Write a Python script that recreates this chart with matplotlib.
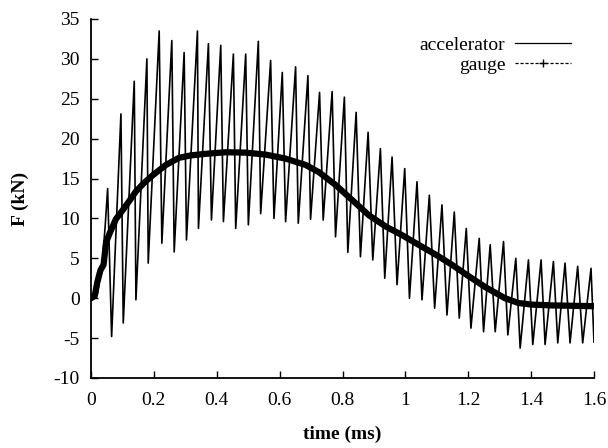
import matplotlib
matplotlib.use('Agg')
import matplotlib.pyplot as plt
from matplotlib.lines import Line2D
from matplotlib.ticker import FuncFormatter

plt.rcParams['font.family'] = ['Liberation Serif', 'DejaVu Serif']
plt.rcParams['axes.unicode_minus'] = False

# accelerator signal: start, then alternating peaks / troughs
accel_t = [0, 0.02, 0.035, 0.045,
           0.0529, 0.0656, 0.0952, 0.1026, 0.1376, 0.1429, 0.1778, 0.1820,
           0.2169, 0.2254, 0.2571, 0.2646, 0.2963, 0.3037, 0.3386, 0.3418,
           0.3735, 0.3831, 0.4127, 0.4212, 0.4529, 0.4603, 0.4921, 0.5005,
           0.5323, 0.5397, 0.5714, 0.5820, 0.6085, 0.6190, 0.6508, 0.6593,
           0.6900, 0.6984, 0.7270, 0.7386, 0.7670, 0.7778, 0.8060, 0.8169,
           0.8434, 0.8571, 0.8815, 0.8963, 0.9206, 0.9344, 0.9577, 0.9735,
           0.9979, 1.0130, 1.0370, 1.0529, 1.0762, 1.0931, 1.1164, 1.1323,
           1.1556, 1.1714, 1.1937, 1.2085, 1.2349, 1.2487, 1.2698, 1.2857,
           1.3122, 1.3259, 1.3513, 1.3651, 1.3915, 1.4053, 1.4317, 1.4444,
           1.4709, 1.4847, 1.5079, 1.5238, 1.5481, 1.5640, 1.5905, 1.6]
accel_f = [0, 0.5, 4.0, 9.0,
           13.75, -4.8, 23.1, -3.1, 27.2, -0.2, 30.0, 4.4,
           33.5, 6.9, 32.3, 5.8, 30.8, 7.3, 33.5, 8.75,
           31.9, 9.8, 31.7, 9.6, 30.6, 8.75, 30.6, 9.2,
           32.2, 10.6, 29.8, 10.0, 28.3, 9.6, 29.0, 9.4,
           27.9, 9.9, 25.8, 9.8, 25.9, 7.7, 25.2, 5.75,
           23.3, 5.2, 20.8, 4.8, 18.75, 2.5, 17.7, 1.7,
           16.25, 0.0, 14.6, -0.2, 12.9, -1.25, 11.7, -2.1,
           10.8, -2.5, 8.75, -3.75, 7.5, -4.2, 6.7, -4.2,
           7.1, -4.6, 5.0, -6.25, 4.8, -5.8, 4.8, -5.8,
           4.6, -5.6, 4.4, -5.6, 4.0, -5.6, 3.75, -5.5]

# strain gauge (smooth curve)
gauge_t = [0, 0.012, 0.02, 0.03, 0.04, 0.048, 0.06, 0.079, 0.1, 0.122,
           0.143, 0.17, 0.196, 0.238, 0.28, 0.317, 0.365, 0.429, 0.492, 0.556,
           0.619, 0.683, 0.725, 0.778, 0.831, 0.884, 0.937, 0.99, 1.042, 1.095,
           1.148, 1.2, 1.254, 1.317, 1.36, 1.402, 1.466, 1.6]
gauge_f = [0, 0.3, 2.0, 3.5, 4.2, 7.0, 8.2, 9.9, 11.0, 12.2,
           13.4, 14.5, 15.4, 16.7, 17.6, 17.9, 18.1, 18.3, 18.25, 18.0,
           17.5, 16.7, 15.8, 14.2, 12.3, 10.4, 9.0, 7.9, 6.7, 5.5,
           4.2, 2.8, 1.4, 0, -0.6, -0.8, -0.9, -1.0]

x_ticks = [0, 0.2, 0.4, 0.6, 0.8, 1.0, 1.2, 1.4, 1.6]
y_ticks = [-10, -5, 0, 5, 10, 15, 20, 25, 30, 35]

fig = plt.figure(figsize=(6.08, 4.48), dpi=100)
ax = fig.add_axes([91 / 608, 1 - 378 / 448, 503 / 608, 359 / 448])

ax.plot(accel_t, accel_f, color='black', lw=1.2)
ax.plot(gauge_t, gauge_f, color='black', lw=4.5, solid_capstyle='round')

ax.set_xlim(0, 1.6)
ax.set_ylim(-10, 35)
ax.set_xticks(x_ticks)
ax.set_yticks(y_ticks)
ax.xaxis.set_major_formatter(FuncFormatter(lambda v, p: f'{v:g}'))
ax.tick_params(direction='in', length=5, width=1, labelsize=14)
ax.tick_params(axis='x', pad=10)
ax.tick_params(axis='y', pad=8)
for s in ['top', 'right']:
    ax.spines[s].set_visible(False)
for s in ['left', 'bottom']:
    ax.spines[s].set_linewidth(1.3)

ax.set_xlabel('time (ms)', fontsize=14, fontweight='bold', labelpad=12)
ax.set_ylabel('F (kN)', fontsize=14, fontweight='bold', labelpad=18)

handles = [Line2D([], [], color='black', lw=0.9),
           Line2D([], [], color='black', lw=0.9, ls=(0, (2.5, 1.5)), marker='+', ms=6)]
ax.legend(handles, ['accelerator', 'gauge'], loc='upper right', bbox_to_anchor=(0.99, 1.0),
          frameon=False, markerfirst=False, numpoints=1, handlelength=2.9,
          handletextpad=0.5, labelspacing=0.1, fontsize=14)

fig.savefig('out.png', dpi=100)
